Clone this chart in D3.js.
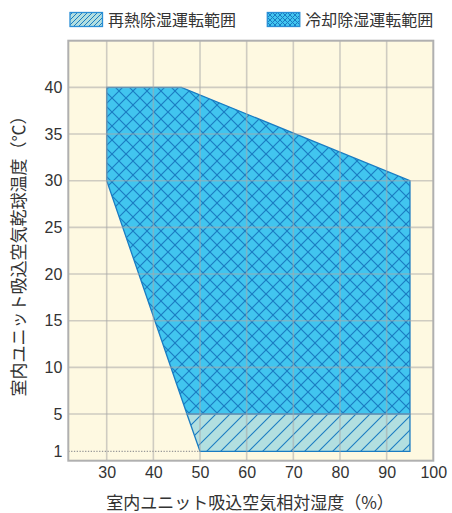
<!DOCTYPE html>
<html><head><meta charset="utf-8">
<script src="https://cdn.jsdelivr.net/npm/d3@7"></script>
<style>
body{margin:0;background:#fff;}
text{font-family:"Noto Sans CJK JP","Noto Sans",sans-serif;fill:#333;}
</style></head>
<body>
<svg id="c" width="452" height="513"></svg>
<script>
// data
const xTicks = [30, 40, 50, 60, 70, 80, 90, 100];
const yTicks = [1, 5, 10, 15, 20, 25, 30, 35, 40];
const coolingRH   = [30, 46, 95, 95, 47.2, 30];
const coolingTemp = [40, 40, 30, 5, 5, 30];
const reheatRH    = [47.2, 95, 95, 50];
const reheatTemp  = [5, 5, 1, 1];
const legendLabels = ["再熱除湿運転範囲", "冷却除湿運転範囲"];
const xTitle = "室内ユニット吸込空気相対湿度（%）";
const yTitle = "室内ユニット吸込空気乾球温度（℃）";

const svg = d3.select("#c");
const x = d3.scaleLinear().domain([21.77, 100]).range([68.3, 433.3]);
const y = d3.scaleLinear().domain([0, 45]).range([460.7, 40.7]);

const lineCol = "#1a7cc2", coolFill = "#41c5ef", reheatFill = "#b2dfe0";
const defs = svg.append("defs");
function cross(id, s, sw){
  const p = defs.append("pattern").attr("id", id).attr("patternUnits","userSpaceOnUse")
    .attr("width", s).attr("height", s);
  p.append("rect").attr("width", s).attr("height", s).attr("fill", coolFill);
  const g = p.append("g").attr("stroke", lineCol).attr("stroke-width", sw);
  g.append("line").attr("x1",0).attr("y1",0).attr("x2",s).attr("y2",s);
  g.append("line").attr("x1",s).attr("y1",0).attr("x2",0).attr("y2",s);
}
function hatch(id, s, sw){
  const p = defs.append("pattern").attr("id", id).attr("patternUnits","userSpaceOnUse")
    .attr("width", s).attr("height", s);
  p.append("rect").attr("width", s).attr("height", s).attr("fill", reheatFill);
  const g = p.append("g").attr("stroke", lineCol).attr("stroke-width", sw);
  g.append("line").attr("x1",0).attr("y1",s).attr("x2",s).attr("y2",0);
  g.append("line").attr("x1",-1).attr("y1",1).attr("x2",1).attr("y2",-1);
  g.append("line").attr("x1",s-1).attr("y1",s+1).attr("x2",s+1).attr("y2",s-1);
}
cross("crossBig", 14, 1.15);
hatch("hatchBig", 14, 1.1);
cross("crossSmall", 5, 1);
hatch("hatchSmall", 5, 1);

// plot background
svg.append("rect").attr("x", x(21.77)).attr("y", y(45))
  .attr("width", x(100)-x(21.77)).attr("height", y(0)-y(45)).attr("fill", "#fef9e1");

// polygons
const toPts = (xs, ys) => xs.map((v,i) => [x(v), y(ys[i])].join(",")).join(" ");
svg.append("polygon").attr("points", toPts(coolingRH, coolingTemp))
  .attr("fill", "url(#crossBig)").attr("stroke", lineCol).attr("stroke-width", 1.3);
svg.append("polygon").attr("points", toPts(reheatRH, reheatTemp))
  .attr("fill", "url(#hatchBig)").attr("stroke", lineCol).attr("stroke-width", 1.3);

// grid on top, semi-transparent
const grid = svg.append("g").attr("stroke", "#a8a8a8").attr("stroke-width", 1.6).attr("stroke-opacity", 0.55);
xTicks.filter(v => v < 100).forEach(v => grid.append("line")
  .attr("x1", x(v)).attr("x2", x(v)).attr("y1", y(45)).attr("y2", y(0)));
yTicks.filter(v => v >= 5).forEach(v => grid.append("line")
  .attr("x1", x(21.77)).attr("x2", x(100)).attr("y1", y(v)).attr("y2", y(v)));
// dotted line at 1
svg.append("line").attr("x1", x(21.77)).attr("x2", x(50)).attr("y1", y(1)).attr("y2", y(1))
  .attr("stroke", "#999").attr("stroke-width", 1.3).attr("stroke-dasharray", "1.3,1.5");
// border
svg.append("rect").attr("x", x(21.77)).attr("y", y(45))
  .attr("width", x(100)-x(21.77)).attr("height", y(0)-y(45))
  .attr("fill", "none").attr("stroke", "#b0b0b0").attr("stroke-width", 2);

// axes (labels only)
const xAxis = svg.append("g").attr("transform", `translate(0,${y(0)})`)
  .call(d3.axisBottom(x).tickValues(xTicks).tickSize(0).tickPadding(6));
xAxis.select(".domain").remove();
xAxis.selectAll("text").attr("font-size", 16).attr("fill", "#333")
  .style("font-family", "'Liberation Sans',Arial,sans-serif");
const yAxis = svg.append("g").attr("transform", `translate(${x(21.77)},0)`)
  .call(d3.axisLeft(y).tickValues(yTicks).tickSize(0).tickPadding(6));
yAxis.select(".domain").remove();
yAxis.selectAll("text").attr("font-size", 16).attr("fill", "#333")
  .style("font-family", "'Liberation Sans',Arial,sans-serif");

// titles
svg.append("text").attr("x", 250).attr("y", 509).attr("text-anchor", "middle")
  .attr("font-size", 17).text(xTitle);
svg.append("text").attr("transform", "translate(25,252) rotate(-90)").attr("text-anchor", "middle")
  .attr("font-size", 17).text(yTitle);

// legend
const legX = [70, 267.3], legFill = ["url(#hatchSmall)", "url(#crossSmall)"];
legendLabels.forEach((t, i) => {
  svg.append("rect").attr("x", legX[i]).attr("y", 12.5).attr("width", 32.5).attr("height", 14)
    .attr("fill", legFill[i]).attr("stroke", "#2a8fd6").attr("stroke-width", 1.3);
  svg.append("text").attr("x", legX[i] + 38).attr("y", 25.5).attr("font-size", 16).text(t);
});
</script>
</body></html>
